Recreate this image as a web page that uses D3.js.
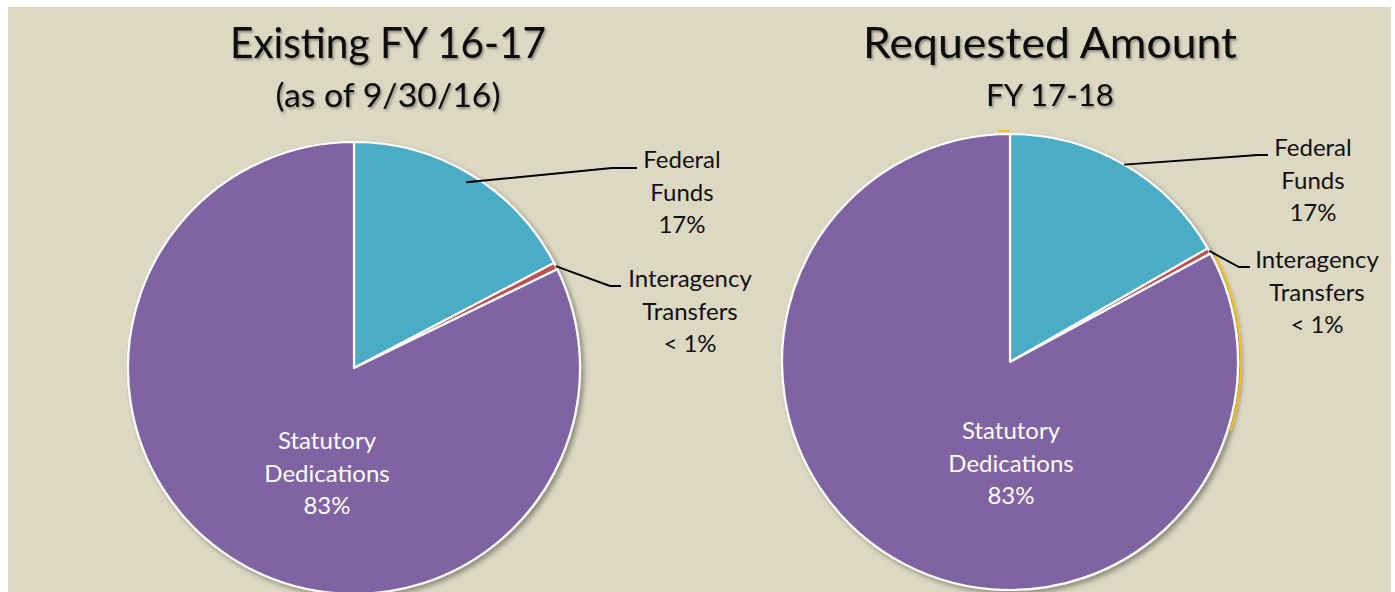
<!DOCTYPE html>
<html>
<head>
<meta charset="utf-8">
<script src="https://cdn.jsdelivr.net/npm/d3@7"></script>
<style>
  html, body { margin: 0; padding: 0; background: #ffffff; }
  svg { display: block; }
  text { font-family: Lato, "Open Sans", sans-serif; }
</style>
</head>
<body>
<svg id="chart" width="1395" height="592"></svg>
<script>
// ---- Data ----
const categories = ["Federal Funds", "Interagency Transfers", "Statutory Dedications"];
const existingValues = [17.3, 0.5, 82.2];
const requestedValues = [16.7, 0.4, 82.9];
const existingLabels = ["17%", "< 1%", "83%"];
const requestedLabels = ["17%", "< 1%", "83%"];
const titles = [["Existing FY 16-17", "(as of 9/30/16)"], ["Requested Amount", "FY 17-18"]];

// ---- Styles / layout ----
const colors = d3.scaleOrdinal().domain(categories).range(["#4bacc6", "#c0504d", "#8064a2"]);
const svg = d3.select("#chart");
const W = 1395, H = 592;

svg.append("rect").attr("x", 8).attr("y", 7).attr("width", 1383).attr("height", H - 7).attr("fill", "#ddd8c2");

const defs = svg.append("defs");
const sh = defs.append("filter").attr("id", "pieShadow").attr("x", "-10%").attr("y", "-10%").attr("width", "130%").attr("height", "130%");
sh.append("feDropShadow").attr("dx", 3).attr("dy", 3).attr("stdDeviation", 2.5).attr("flood-color", "#000").attr("flood-opacity", 0.35);
const tsh = defs.append("filter").attr("id", "textShadow").attr("x", "-10%").attr("y", "-20%").attr("width", "120%").attr("height", "150%");
tsh.append("feDropShadow").attr("dx", 1.5).attr("dy", 2).attr("stdDeviation", 1.2).attr("flood-color", "#000").attr("flood-opacity", 0.35);

const charts = [
  { values: existingValues, labels: existingLabels, title: titles[0], cx: 354, cy: 368, r: 226,
    titleX: 388, titleY: 58, titleLen: 316, subY: 107, subLen: 225, subSize: 32,
    fedLabel: { x: 682, y: 168 }, fedLine: { r: 0.96, elbow: [612, 168], end: [637, 168] },
    intLabel: { x: 690, y: 287 }, intLine: { r: 1.0, elbow: [610, 286], end: [621, 286] },
    statLabel: { x: 327, y: 449 }, yellow: false },
  { values: requestedValues, labels: requestedLabels, title: titles[1], cx: 1010, cy: 362, r: 228,
    titleX: 1050, titleY: 58, titleLen: 374, subY: 106, subLen: 128, subSize: 31,
    fedLabel: { x: 1313, y: 156 }, fedLine: { r: 1.0, elbow: [1258, 155], end: [1268, 155] },
    intLabel: { x: 1317, y: 268 }, intLine: { r: 1.0, elbow: [1239, 267], end: [1250, 267] },
    statLabel: { x: 1011, y: 439 }, yellow: true }
];

const pie = d3.pie().sort(null).value(d => d.v);

charts.forEach(c => {
  const g = svg.append("g").attr("transform", `translate(${c.cx},${c.cy})`);
  const data = categories.map((k, i) => ({ k, v: c.values[i], lab: c.labels[i] }));
  const arcs = pie(data);
  const arc = d3.arc().innerRadius(0).outerRadius(c.r);

  const pg = g.append("g").attr("filter", "url(#pieShadow)");
  pg.selectAll("path").data(arcs).join("path")
    .attr("d", arc)
    .attr("fill", d => colors(d.data.k))
    .attr("stroke", "#ffffff").attr("stroke-width", 2.2).attr("stroke-linejoin", "round");

  if (c.yellow) {
    // thin yellow outline segments visible outside the white border
    const yArc = d3.arc().innerRadius(c.r + 2.2).outerRadius(c.r + 4);
    const a0 = arcs[2].startAngle;
    g.append("path").attr("d", yArc({ startAngle: a0 + 0.02, endAngle: a0 + 0.8 })).attr("fill", "#ffc000");
    g.append("path").attr("d", yArc({ startAngle: arcs[2].endAngle - 0.05, endAngle: arcs[2].endAngle - 0.003 })).attr("fill", "#ffc000");
  }

  // Leader lines
  const lead = (a, cfg) => {
    const mid = (a.startAngle + a.endAngle) / 2;
    const rr = c.r * cfg.r;
    const sx = c.cx + rr * Math.sin(mid), sy = c.cy - rr * Math.cos(mid);
    svg.append("polyline")
      .attr("points", [[sx, sy], cfg.elbow, cfg.end].map(p => p.join(",")).join(" "))
      .attr("fill", "none").attr("stroke", "#000").attr("stroke-width", 1.9);
  };
  lead(arcs[0], c.fedLine);
  lead(arcs[1], c.intLine);

  const multi = (x, y, lines, color) => {
    const t = svg.append("text").attr("x", x).attr("y", y).attr("text-anchor", "middle")
      .attr("font-size", 24).attr("fill", color);
    lines.forEach((l, i) => t.append("tspan").attr("x", x).attr("dy", i === 0 ? 0 : 32.5).text(l));
  };
  multi(c.fedLabel.x, c.fedLabel.y, ["Federal", "Funds", arcs[0].data.lab], "#111");
  multi(c.intLabel.x, c.intLabel.y, ["Interagency", "Transfers", arcs[1].data.lab], "#111");
  multi(c.statLabel.x, c.statLabel.y, ["Statutory", "Dedications", arcs[2].data.lab], "#ffffff");

  // Titles
  svg.append("text").attr("x", c.titleX).attr("y", c.titleY).attr("text-anchor", "middle")
    .attr("font-size", 43).attr("fill", "#0a0a0a").attr("filter", "url(#textShadow)")
    .attr("textLength", c.titleLen).attr("lengthAdjust", "spacingAndGlyphs")
    .text(c.title[0]);
  svg.append("text").attr("x", c.titleX).attr("y", c.subY).attr("text-anchor", "middle")
    .attr("font-size", c.subSize).attr("fill", "#0a0a0a").attr("filter", "url(#textShadow)")
    .attr("textLength", c.subLen).attr("lengthAdjust", "spacingAndGlyphs")
    .text(c.title[1]);
});
</script>
</body>
</html>
